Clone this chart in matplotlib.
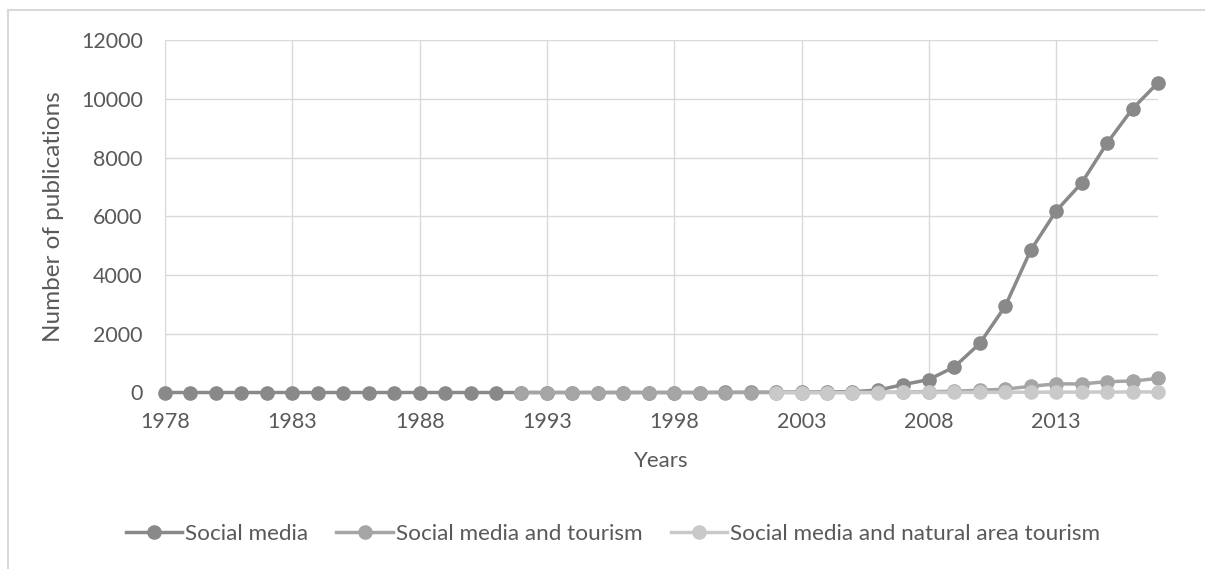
import matplotlib
matplotlib.use("Agg")
import matplotlib.pyplot as plt
from matplotlib.lines import Line2D

plt.rcParams['font.family'] = ['Lato', 'DejaVu Sans']

# ---- data ----
years_social = list(range(1978, 2018))
social_media = [0, 0, 0, 0, 0, 0, 0, 0, 0, 0,
                0, 0, 0, 0, 0, 0, 0, 0, 0, 0,
                0, 0, 5, 8, 10, 15, 20, 30, 80, 270,
                440, 870, 1670, 2940, 4840, 6180, 7130, 8490, 9660, 10545]

years_tourism = list(range(1992, 2018))
social_tourism = [0, 0, 0, 0, 0, 0, 0, 0, 0, 0,
                  0, 0, 0, 0, 5, 10, 25, 45, 75, 115,
                  210, 295, 290, 370, 390, 480]

years_natural = list(range(2002, 2018))
social_natural = [0, 0, 0, 0, 0, 1, 2, 3, 5, 6, 10, 12, 14, 16, 18, 20]

series_names = ["Social media", "Social media and tourism",
                "Social media and natural area tourism"]
xtick_years = [1978, 1983, 1988, 1993, 1998, 2003, 2008, 2013]
yticks = [0, 2000, 4000, 6000, 8000, 10000, 12000]

colors = ["#898989", "#a5a5a5", "#c9c9c9"]
text_color = "#595959"
grid_color = "#d9d9d9"

W, H = 1205, 569
fig = plt.figure(figsize=(W / 100, H / 100), dpi=100)
ax = fig.add_axes([165 / W, 1 - 392.5 / H, (1158 - 165) / W, (392.5 - 40) / H])

for xs, ys, c, name in zip([years_social, years_tourism, years_natural],
                           [social_media, social_tourism, social_natural],
                           colors, series_names):
    ax.plot(xs, ys, color=c, lw=2.5, marker='o', markersize=9.5,
            markerfacecolor=c, markeredgecolor=c, label=name,
            clip_on=False, zorder=3)

ax.set_xlim(1978, 2017)
ax.set_ylim(0, 12000)
ax.set_xticks(xtick_years)
ax.set_xticklabels([str(y) for y in xtick_years])
ax.set_yticks(yticks)
ax.set_yticklabels([str(v) for v in yticks])
ax.grid(True, color=grid_color, lw=1.0, zorder=0)
ax.set_axisbelow(True)
for s in ['top', 'right', 'bottom']:
    ax.spines[s].set_visible(False)
ax.spines['left'].set_color(grid_color)
ax.tick_params(axis='both', length=0, labelsize=15.5, colors=text_color)
ax.tick_params(axis='x', pad=14)
ax.tick_params(axis='y', pad=16)

ax.set_xlabel("Years", fontsize=16, color=text_color, labelpad=14)
ax.set_ylabel("Number of publications", fontsize=17.5, color=text_color, labelpad=12)

handles, labels = ax.get_legend_handles_labels()
leg = fig.legend(handles, labels, loc='center', bbox_to_anchor=(613 / W, 1 - 534 / H),
                 ncol=3, frameon=False, fontsize=16.2, handlelength=2.5,
                 handletextpad=0.15, columnspacing=1.25, numpoints=1)
for t in leg.get_texts():
    t.set_color(text_color)

# chart border (cropped at right and bottom)
fig.add_artist(Line2D([8 / W, 1.0], [1 - 10 / H, 1 - 10 / H], transform=fig.transFigure,
                      color=grid_color, lw=1.5))
fig.add_artist(Line2D([8 / W, 8 / W], [0, 1 - 10 / H], transform=fig.transFigure,
                      color=grid_color, lw=1.5))

fig.savefig("out.png", dpi=100, facecolor="white")
